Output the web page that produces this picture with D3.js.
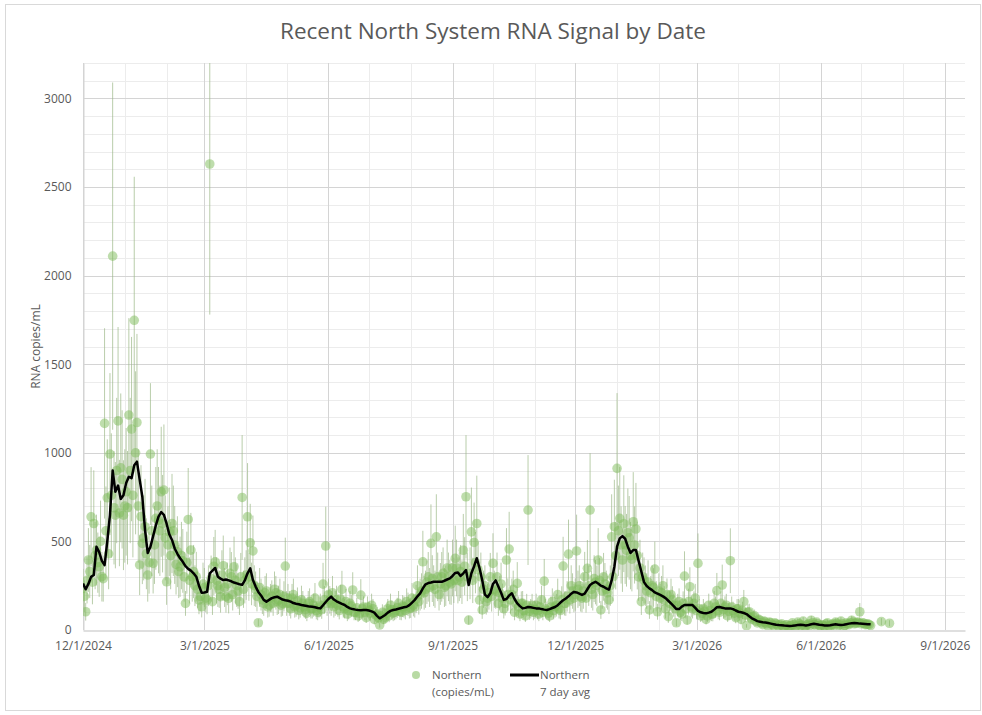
<!DOCTYPE html>
<html>
<head>
<meta charset="utf-8">
<script src="https://cdn.jsdelivr.net/npm/d3@7"></script>
<style>
    body { margin: 0; background: #fff; }
    text { font-family: "Open Sans", "DejaVu Sans", sans-serif; fill: #595959; }
</style>
</head>
<body>
<script>
;(() => {
    // samples every 2 days starting 12/1/2024 (copiesB is the day after each)
    var startDate = new Date(2024, 11, 1),
        stepDays = 2;

    var copies = [ // Northern (copies/mL), even days
        235,103,395,639,601,451,357,301,1166,746,993,2110,648,1180,915,648, // dec 24
        780,1213,1134,1748,1171,367,489,583,310,993,376,630,620,780,790, // jan 25
        272,554,601,480,442,357,390,150,624,451,330,301,169,131, // feb
        240,169,2630,160,385,250,188,363,188,179,300,357,250,160,748,280, // mar
        639,492,446,230,41,200,150,220,140,190,230,160,200,150,361, // apr
        180,120,200,140,110,170,130,95,160,120,180,100,140,259,474, // may
        200,150,130,170,110,229,120,90,150,226,100,80,197,130,70, // jun
        110,140,60,90,28,100,70,120,140,95,110,150,100,130,160,120, // jul
        180,130,250,200,385,230,300,489,250,526,200,300,240,350,270, // aug
        350,404,280,330,450,752,56,554,494,601,169,113,250,180,300, // sep
        376,220,150,260,120,395,457,200,100,263,90,150,80,677,120,100, // oct
        140,90,170,276,110,80,160,130,200,110,361,150,428,250,180, // nov
        446,250,180,301,348,677,200,270,395,113,300,230,170,526,583, // dec 25
        912,630,395,480,549,420,611,570,300,160,280,220,113,250,344,103, // jan 26
        180,250,120,75,200,140,41,160,90,304,56,244,120,180, // feb
        376,80,120,60,140,90,150,222,100,254,130,80,391,110,70, // mar
        120,60,160,23,103,60,80,40,55,30,45,20,40,25,35, // apr
        20,35,15,30,22,40,18,45,25,50,20,35,55,30,45,25, // may
        30,20,40,15,35,45,25,50,20,40,30,55,35,45,103, // jun
        40,30,35,25,null,null,null,47,null,null,38 // jul
    ];

    var spread = [ // +/- error bar, even days
        110,50,180,280,300,200,170,140,537,330,457,980,300,530,420,310,
        360,547,520,810,500,170,230,270,150,400,170,290,300,367,370,
        130,250,280,220,200,170,180,70,290,210,150,140,80,60,
        110,80,850,75,180,120,90,170,90,85,140,170,120,75,352,130,
        303,220,200,100,20,90,70,100,65,90,100,75,90,70,160,
        80,55,90,65,50,80,60,45,75,55,85,45,65,120,222,
        90,70,60,80,50,105,55,40,70,100,45,35,90,60,30,
        50,65,28,40,15,45,32,55,65,45,50,70,45,60,75,55,
        85,60,115,90,175,105,140,220,115,240,90,140,110,160,125,
        160,185,130,150,205,348,25,250,225,270,75,50,115,80,135,
        170,100,70,120,55,180,210,90,45,120,40,70,35,310,55,45,
        65,40,80,125,50,35,75,60,90,50,165,70,195,115,80,
        205,115,80,140,160,321,90,125,180,50,135,105,80,240,265,
        425,290,180,220,250,190,280,260,135,75,130,100,50,115,155,45,
        80,115,55,35,90,65,20,75,40,140,25,110,55,80,
        169,35,55,28,65,40,70,100,45,115,60,35,183,50,32,
        55,28,66,10,45,28,35,18,25,14,20,9,18,11,16,
        9,16,7,14,10,18,8,20,11,22,9,16,25,14,20,11,
        14,9,18,7,16,20,11,22,9,18,14,25,16,20,49,
        18,14,16,11,null,null,null,20,null,null,17
    ];

    var copiesB = [ // Northern (copies/mL), odd days
        190,280,330,270,420,380,500,290,560,430,760,690,900,660,850,700,
        690,900,760,1000,700,640,520,430,380,560,480,700,560,600,520,
        480,420,560,370,330,420,300,380,280,300,250,230,190,260,
        180,250,290,360,280,230,310,240,260,320,200,280,220,300,230,310,
        300,260,250,190,240,170,210,130,180,150,210,170,140,190,150,
        150,180,130,165,125,150,115,150,120,140,110,130,115,170,150,
        170,210,150,140,175,130,160,110,135,100,125,95,120,100,130,
        95,120,85,70,80,60,95,80,115,100,125,105,135,110,145,125,
        140,175,160,220,210,270,240,290,230,300,260,320,250,300,260,
        280,350,300,270,360,300,320,280,380,340,300,230,160,210,190,
        230,300,210,180,150,200,170,230,150,130,150,110,140,105,140,115,
        110,130,100,120,95,130,110,140,120,170,150,190,170,220,200,
        230,190,220,180,250,230,290,250,280,220,260,210,250,300,420,
        560,480,600,450,520,400,480,420,350,300,250,270,210,240,190,220,
        210,170,200,150,170,120,140,100,150,120,160,130,150,110,
        120,95,105,80,110,90,130,110,150,115,140,105,130,95,120,
        95,110,85,100,70,75,50,60,40,50,35,45,30,40,28,
        30,22,28,18,25,30,22,35,28,20,30,25,40,28,35,22,
        25,35,22,30,28,38,30,35,25,35,40,45,38,42,35,
        38,32,30,null,null,null,null,null,null,null,null
    ];

    var spreadB = [ // +/- error bar, odd days
        90,130,150,125,190,170,230,130,250,200,350,320,410,300,390,320,
        320,410,350,460,320,290,240,200,175,255,220,320,255,275,240,
        220,190,255,170,150,190,140,175,130,140,115,105,85,120,
        80,115,130,165,130,105,140,110,120,145,90,130,100,135,105,140,
        135,120,115,85,110,80,95,60,80,70,95,80,65,85,70,
        70,80,60,75,55,70,52,70,55,65,50,60,52,78,70,
        78,95,70,65,80,60,72,50,62,45,57,43,55,45,60,
        43,55,38,32,36,27,43,36,52,45,57,48,62,50,66,57,
        63,80,73,100,95,123,110,132,105,137,118,146,114,137,118,
        128,160,137,123,164,137,146,128,173,155,137,105,73,95,86,
        105,137,95,82,68,91,77,105,68,59,68,50,64,48,64,52,
        50,59,45,55,43,59,50,64,55,77,68,86,77,100,91,
        105,86,100,82,114,105,132,114,127,100,118,95,114,137,191,
        255,218,273,205,236,182,218,191,159,137,114,123,95,109,86,100,
        95,77,91,68,77,55,64,45,68,55,73,59,68,50,
        55,43,48,36,50,41,59,50,68,52,64,48,59,43,55,
        43,50,39,45,32,34,23,27,18,23,16,20,14,18,13,
        14,10,13,8,11,14,10,16,13,9,14,11,18,13,16,10,
        11,16,10,14,13,17,14,16,11,16,18,20,17,19,16,
        17,14,14,null,null,null,null,null,null,null,null
    ];

    var avg7 = [ // Northern 7 day avg, even days
        263,230,260,300,310,470,440,390,366,500,650,900,780,815,740,760,
        830,865,857,930,950,850,752,564,434,470,530,590,640,665,650,
        600,540,508,460,430,405,385,360,345,335,320,301,250,210,
        212,216,320,335,350,301,290,282,285,280,275,268,263,258,255,280,
        320,348,282,245,215,195,170,160,170,180,185,188,180,172,168,
        165,160,152,148,145,141,138,135,132,131,128,124,122,140,158,
        175,188,172,162,155,147,141,130,122,118,115,113,112,113,113,
        110,105,98,80,66,75,85,98,108,113,116,120,124,128,131,140,
        155,170,190,207,235,258,265,268,272,272,272,272,278,285,291,
        305,322,325,305,320,338,254,320,360,405,350,282,200,185,207,
        260,280,245,210,170,175,195,207,175,150,135,122,125,130,128,125,
        122,122,118,115,113,118,124,130,140,155,168,178,190,205,215,
        212,205,198,205,230,254,265,272,262,250,244,235,228,280,357,
        470,517,530,515,470,435,451,451,390,330,270,248,235,225,212,205,
        198,190,180,165,150,135,118,118,132,141,141,141,141,125,
        108,100,96,94,98,103,115,128,130,126,122,122,122,118,110,
        103,100,96,90,78,66,58,50,47,44,42,39,36,33,30,
        28,27,25,24,23,24,26,28,30,28,26,28,32,35,33,30,
        28,26,25,27,30,32,30,28,30,33,36,38,40,38,36,
        35,34,33,32,null,null,null,null,null,null,null
    ];

    var xTickLabels = ['12/1/2024', '3/1/2025', '6/1/2025', '9/1/2025',
                       '12/1/2025', '3/1/2026', '6/1/2026', '9/1/2026'];
    var yTicks = [0, 500, 1000, 1500, 2000, 2500, 3000];

    var width = 982, height = 715;
    var left = 83, right = 965, top = 63, bottom = 630;

    var data = copies.map((v, i) => ({
        date: d3.timeDay.offset(startDate, i * stepDays),
        value: v,
        err: spread[i],
        avg: avg7[i]
    }));
    var dataB = copiesB.map((v, i) => ({
        date: d3.timeDay.offset(startDate, i * stepDays + 1),
        value: v,
        err: spreadB[i]
    }));

    var x = d3.scaleTime()
        .domain([startDate, new Date(2026, 8, 16)])
        .range([left, right]);
    var y = d3.scaleLinear()
        .domain([0, 3200])
        .range([bottom, top]);

    var svg = d3.select('body')
        .append('svg')
        .attr('width', width)
        .attr('height', height);

    // chart border
    svg.append('rect')
        .attr('x', 5.5).attr('y', 4.5)
        .attr('width', 975).attr('height', 706)
        .attr('fill', 'none')
        .attr('stroke', '#d9d9d9');

    svg.append('text')
        .attr('x', 493)
        .attr('y', 39)
        .attr('text-anchor', 'middle')
        .style('font-size', '22.5px')
        .text('Recent North System RNA Signal by Date');

    // minor grid
    var months = d3.timeMonth.range(startDate, x.domain()[1]);
    svg.append('g')
        .selectAll('line')
        .data(months)
        .enter()
        .append('line')
        .attr('x1', d => Math.round(x(d)) + 0.5)
        .attr('x2', d => Math.round(x(d)) + 0.5)
        .attr('y1', top)
        .attr('y2', bottom)
        .attr('stroke', '#ececec');
    svg.append('g')
        .selectAll('line')
        .data(d3.range(100, 3201, 100))
        .enter()
        .append('line')
        .attr('x1', left)
        .attr('x2', right)
        .attr('y1', d => Math.round(y(d)) + 0.5)
        .attr('y2', d => Math.round(y(d)) + 0.5)
        .attr('stroke', '#ececec');

    // major grid
    var quarterDates = xTickLabels.map(d3.timeParse('%m/%d/%Y'));
    svg.append('g')
        .selectAll('line')
        .data(quarterDates)
        .enter()
        .append('line')
        .attr('x1', d => Math.round(x(d)) + 0.5)
        .attr('x2', d => Math.round(x(d)) + 0.5)
        .attr('y1', top)
        .attr('y2', bottom)
        .attr('stroke', '#d4d4d4');
    svg.append('g')
        .selectAll('line')
        .data(yTicks.slice(1))
        .enter()
        .append('line')
        .attr('x1', left)
        .attr('x2', right)
        .attr('y1', d => Math.round(y(d)) + 0.5)
        .attr('y2', d => Math.round(y(d)) + 0.5)
        .attr('stroke', '#d4d4d4');

    // axes
    var xAxis = svg.append('g')
        .attr('transform', 'translate(0,' + (bottom + 0.5) + ')')
        .call(d3.axisBottom(x)
            .tickValues(quarterDates)
            .tickSize(0)
            .tickPadding(11)
            .tickFormat((d, i) => xTickLabels[i]));
    xAxis.select('.domain').attr('stroke', '#bfbfbf');
    xAxis.selectAll('text')
        .style('font-size', '12px')
        .style('font-family', '"Open Sans", sans-serif')
        .attr('fill', '#595959');

    var yAxis = svg.append('g')
        .attr('transform', 'translate(' + (left + 0.5) + ',0)')
        .call(d3.axisLeft(y)
            .tickValues(yTicks)
            .tickSize(0)
            .tickPadding(12)
            .tickFormat(d3.format('d')));
    yAxis.select('.domain').attr('stroke', '#d4d4d4');
    yAxis.selectAll('text')
        .style('font-size', '12px')
        .style('font-family', '"Open Sans", sans-serif')
        .attr('fill', '#595959');

    svg.append('text')
        .attr('transform', 'translate(40,' + ((top + bottom) / 2) + ') rotate(-90)')
        .attr('text-anchor', 'middle')
        .style('font-size', '12px')
        .text('RNA copies/mL');

    svg.append('clipPath')
        .attr('id', 'plot-clip')
        .append('rect')
        .attr('x', left).attr('y', top)
        .attr('width', right - left).attr('height', bottom - top);

    var plot = svg.append('g').attr('clip-path', 'url(#plot-clip)');
    var samples = data.concat(dataB)
        .filter(d => d.value != null)
        .sort((a, b) => a.date - b.date);

    // error bars
    plot.append('g')
        .selectAll('line')
        .data(samples)
        .enter()
        .append('line')
        .attr('x1', d => x(d.date))
        .attr('x2', d => x(d.date))
        .attr('y1', d => y(Math.max(0, d.value - d.err)))
        .attr('y2', d => y(d.value + d.err))
        .attr('stroke', '#9bb886')
        .attr('stroke-opacity', 0.7)
        .attr('stroke-width', 1);

    plot.append('g')
        .selectAll('circle')
        .data(samples)
        .enter()
        .append('circle')
        .attr('cx', d => x(d.date))
        .attr('cy', d => y(d.value))
        .attr('r', 4.8)
        .attr('fill', '#7dbb5a')
        .attr('fill-opacity', 0.5);

    var line = d3.line()
        .defined(d => d.avg != null)
        .x(d => x(d.date))
        .y(d => y(d.avg));
    plot.append('path')
        .datum(data)
        .attr('d', line)
        .attr('fill', 'none')
        .attr('stroke', 'black')
        .attr('stroke-width', 2.5)
        .attr('stroke-linejoin', 'round');

    // legend
    var legend = svg.append('g').style('font-size', '11.5px');
    legend.append('circle')
        .attr('cx', 416).attr('cy', 675).attr('r', 4)
        .attr('fill', '#7dbb5a').attr('fill-opacity', 0.55);
    legend.append('text').attr('x', 432).attr('y', 679).text('Northern');
    legend.append('text').attr('x', 432).attr('y', 696).text('(copies/mL)');
    legend.append('line')
        .attr('x1', 510).attr('x2', 539)
        .attr('y1', 675).attr('y2', 675)
        .attr('stroke', 'black').attr('stroke-width', 3);
    legend.append('text').attr('x', 540).attr('y', 679).text('Northern');
    legend.append('text').attr('x', 540).attr('y', 696).text('7 day avg');
})();
</script>
</body>
</html>
